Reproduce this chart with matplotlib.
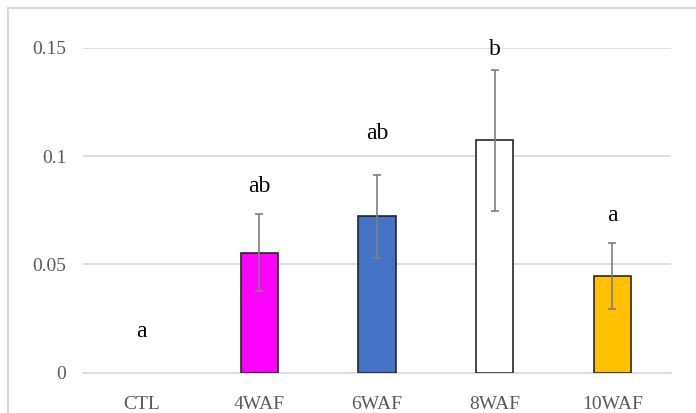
import matplotlib
matplotlib.use('Agg')
import matplotlib.pyplot as plt
from matplotlib.lines import Line2D

# data
groups = ['CTL', '4WAF', '6WAF', '8WAF', '10WAF']
means = [0.0, 0.0555, 0.0722, 0.1074, 0.0447]
errors = [0.0, 0.0176, 0.0190, 0.0325, 0.0151]
letters = ['a', 'ab', 'ab', 'b', 'a']
letter_y = [0.0189, 0.0860, 0.1106, 0.1494, 0.0724]

colors = ['white', '#FF00FF', '#4472C4', 'white', '#FFC000']
edges = ['none', '#262626', '#262626', '#262626', '#262626']

plt.rcParams['font.family'] = ['Liberation Serif', 'DejaVu Serif']

fig = plt.figure(figsize=(6.96, 4.13), dpi=100)
ax = fig.add_axes([83 / 696, 1 - 372.7 / 413, 588 / 696, (372.7 - 48) / 413])

x = range(len(groups))
ax.bar(x, means, width=0.317, color=colors, edgecolor=edges, linewidth=1.2, zorder=3)
ax.errorbar(x[1:], means[1:], yerr=errors[1:], fmt='none', ecolor='#7f7f7f',
            elinewidth=1.2, capsize=3.2, capthick=1.2, zorder=4)

for i, (lab, yy) in enumerate(zip(letters, letter_y)):
    ax.text(i, yy, lab, ha='center', va='center', fontsize=17, color='black',
            zorder=5, clip_on=False)

ax.set_xlim(-0.5, len(groups) - 0.5)
ax.set_ylim(0, 0.15)
ax.set_yticks([0, 0.05, 0.1, 0.15])
ax.set_yticklabels(['0', '0.05', '0.1', '0.15'])
ax.set_xticks(list(x))
ax.set_xticklabels(groups)

ax.yaxis.grid(True, color='#d9d9d9', linewidth=1.2, zorder=0)
ax.set_axisbelow(True)
for s in ['top', 'right', 'left']:
    ax.spines[s].set_visible(False)
ax.spines['bottom'].set_color('#d9d9d9')
ax.spines['bottom'].set_linewidth(1.2)

ax.tick_params(axis='both', length=0, labelcolor='#595959', labelsize=14)
ax.tick_params(axis='y', pad=12)
ax.tick_params(axis='x', pad=17)

# outer chart border (top and left only, as in the picture)
fig.add_artist(Line2D([8 / 696, 1], [1 - 8 / 413, 1 - 8 / 413],
                      transform=fig.transFigure, color='#d9d9d9', linewidth=1.5))
fig.add_artist(Line2D([8 / 696, 8 / 696], [0, 1 - 8 / 413],
                      transform=fig.transFigure, color='#d9d9d9', linewidth=1.5))

fig.savefig('out.png', dpi=100)
